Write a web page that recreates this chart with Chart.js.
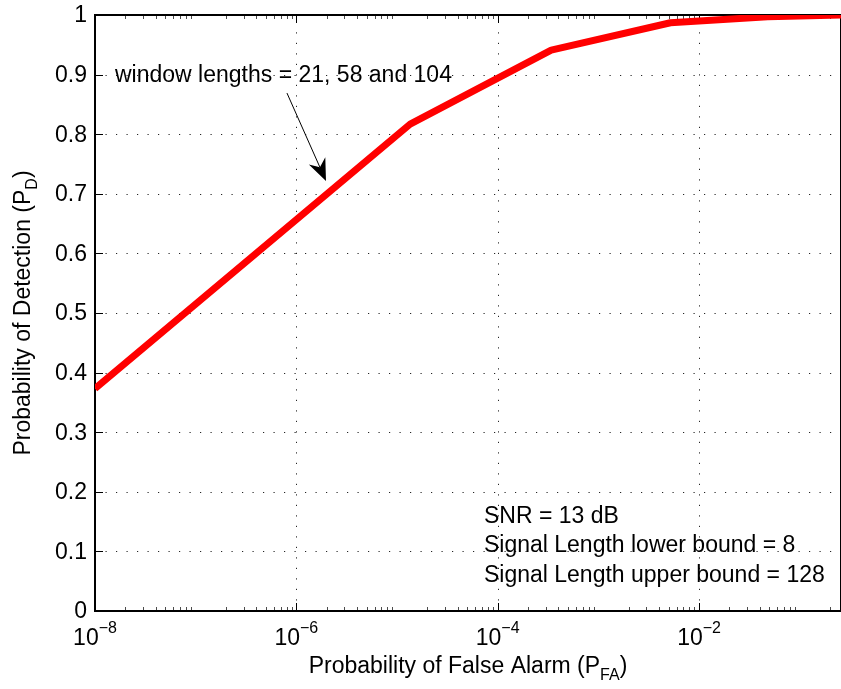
<!DOCTYPE html>
<html>
<head>
<meta charset="utf-8">
<script src="https://cdn.jsdelivr.net/npm/chart.js@4.4.1/dist/chart.umd.min.js"></script>
<style>
  html, body { margin: 0; padding: 0; background: #ffffff; }
  canvas { display: block; }
</style>
</head>
<body>
<canvas id="c" width="841" height="689"></canvas>
<script>
// ---- data ----
const pfaValues = [1e-8, 1.35e-5, 3.4e-4, 5.2e-3, 0.048, 0.257];
const pdValues  = [0.373, 0.817, 0.941, 0.987, 0.997, 1.0];

const xMajorTicks = [1e-8, 1e-6, 1e-4, 1e-2];
const xTickExponents = ['\u22128', '\u22126', '\u22124', '\u22122'];
const yTicks = [0, 0.1, 0.2, 0.3, 0.4, 0.5, 0.6, 0.7, 0.8, 0.9, 1];
const yTickLabels = ['0', '0.1', '0.2', '0.3', '0.4', '0.5', '0.6', '0.7', '0.8', '0.9', '1'];

const xTitleMain = 'Probability of False Alarm (P';
const xTitleSub = 'FA';
const yTitleMain = 'Probability of Detection (P';
const yTitleSub = 'D';

const arrowText = 'window lengths = 21, 58 and 104';
const infoLines = ['SNR = 13 dB', 'Signal Length lower bound = 8', 'Signal Length upper bound = 128'];

// ---- rendering ----
const FONT = '"Liberation Sans", Arial, Helvetica, sans-serif';
const F_MAIN = 23;
const F_SMALL = 16;

function drawWithSub(ctx, main, sub, x, y, align, subShift) {
  ctx.font = F_MAIN + 'px ' + FONT;
  const w1 = ctx.measureText(main).width;
  ctx.font = F_SMALL + 'px ' + FONT;
  const w2 = ctx.measureText(sub).width;
  ctx.font = F_MAIN + 'px ' + FONT;
  const w3 = ctx.measureText(')').width;
  const total = w1 + w2 + w3;
  let x0 = align === 'center' ? x - total / 2 : x;
  ctx.textAlign = 'left';
  ctx.textBaseline = 'alphabetic';
  ctx.font = F_MAIN + 'px ' + FONT;
  ctx.fillText(main, x0, y);
  ctx.font = F_SMALL + 'px ' + FONT;
  ctx.fillText(sub, x0 + w1, y + subShift);
  ctx.font = F_MAIN + 'px ' + FONT;
  ctx.fillText(')', x0 + w1 + w2, y);
}

const matlabAxes = {
  id: 'matlabAxes',
  beforeDatasetsDraw(chart) {
    const { ctx, chartArea: a, scales: { x, y } } = chart;
    ctx.save();
    // dotted grid
    ctx.strokeStyle = 'rgba(0,0,0,0.85)';
    ctx.lineWidth = 1;
    ctx.setLineDash([1.2, 9.3]);
    xMajorTicks.slice(1).forEach(v => {
      const px = Math.round(x.getPixelForValue(v)) + 0.5;
      ctx.beginPath(); ctx.moveTo(px, a.bottom); ctx.lineTo(px, a.top); ctx.stroke();
    });
    yTicks.slice(1, -1).forEach(v => {
      const py = Math.round(y.getPixelForValue(v)) + 0.5;
      ctx.beginPath(); ctx.moveTo(a.left, py); ctx.lineTo(a.right, py); ctx.stroke();
    });
    ctx.setLineDash([]);
    // tick marks (inside)
    ctx.strokeStyle = '#000';
    ctx.lineWidth = 1;
    xMajorTicks.forEach(v => {
      const px = Math.round(x.getPixelForValue(v)) + 0.5;
      ctx.beginPath(); ctx.moveTo(px, a.bottom); ctx.lineTo(px, a.bottom - 8); ctx.stroke();
      ctx.beginPath(); ctx.moveTo(px, a.top); ctx.lineTo(px, a.top + 8); ctx.stroke();
    });
    // minor log ticks
    ctx.strokeStyle = 'rgba(0,0,0,0.7)';
    for (let e = -8; e <= 0; e++) {
      for (let m = 2; m <= 9; m++) {
        const v = m * Math.pow(10, e);
        if (v > x.max) continue;
        const px = Math.round(x.getPixelForValue(v)) + 0.5;
        ctx.beginPath(); ctx.moveTo(px, a.bottom); ctx.lineTo(px, a.bottom - 4); ctx.stroke();
        ctx.beginPath(); ctx.moveTo(px, a.top); ctx.lineTo(px, a.top + 4); ctx.stroke();
      }
    }
    ctx.strokeStyle = '#000';
    yTicks.forEach(v => {
      const py = Math.round(y.getPixelForValue(v)) + 0.5;
      ctx.beginPath(); ctx.moveTo(a.left, py); ctx.lineTo(a.left + 8, py); ctx.stroke();
    });
    // frame
    ctx.lineWidth = 2;
    ctx.strokeStyle = '#000';
    ctx.strokeRect(a.left, a.top, a.right - a.left, a.bottom - a.top);
    ctx.restore();
  },
  afterDatasetsDraw(chart) {
    const { ctx, chartArea: a, scales: { x, y } } = chart;
    ctx.save();
    ctx.fillStyle = '#000';
    // y tick labels
    ctx.font = F_MAIN + 'px ' + FONT;
    ctx.textAlign = 'right';
    ctx.textBaseline = 'middle';
    yTicks.forEach((v, i) => {
      ctx.fillText(yTickLabels[i], a.left - 8, y.getPixelForValue(v) + 1);
    });
    // x tick labels 10^n
    xMajorTicks.forEach((v, i) => {
      const px = x.getPixelForValue(v);
      ctx.font = F_MAIN + 'px ' + FONT;
      const wb = ctx.measureText('10').width;
      ctx.font = F_SMALL + 'px ' + FONT;
      const we = ctx.measureText(xTickExponents[i]).width;
      const x0 = px - (wb + we) / 2;
      ctx.textAlign = 'left';
      ctx.textBaseline = 'alphabetic';
      ctx.font = F_MAIN + 'px ' + FONT;
      ctx.fillText('10', x0, 645);
      ctx.font = F_SMALL + 'px ' + FONT;
      ctx.fillText(xTickExponents[i], x0 + wb, 633);
    });
    // axis titles
    drawWithSub(ctx, xTitleMain, xTitleSub, (a.left + a.right) / 2, 673, 'center', 7);
    ctx.save();
    ctx.translate(30, (a.top + a.bottom) / 2);
    ctx.rotate(-Math.PI / 2);
    drawWithSub(ctx, yTitleMain, yTitleSub, 0, 0, 'center', 7);
    ctx.restore();

    // annotation text
    ctx.font = F_MAIN + 'px ' + FONT;
    ctx.textAlign = 'left';
    ctx.textBaseline = 'alphabetic';
    ctx.fillText(arrowText, x.getPixelForValue(1.58e-8), y.getPixelForValue(0.8876));
    const infoX = x.getPixelForValue(7.3e-5);
    const infoY = [0.1477, 0.0982, 0.0487];
    infoLines.forEach((t, i) => ctx.fillText(t, infoX, y.getPixelForValue(infoY[i])));

    // arrow
    const sx = x.getPixelForValue(8.07e-7), sy = y.getPixelForValue(0.869);
    const tx = x.getPixelForValue(1.97e-6), ty = y.getPixelForValue(0.7215);
    const dx = tx - sx, dy = ty - sy, len = Math.hypot(dx, dy);
    const ux = dx / len, uy = dy / len, nx = -uy, ny = ux;
    const L = 22, W = 9, N = 15;
    ctx.strokeStyle = '#000';
    ctx.lineWidth = 1;
    ctx.beginPath();
    ctx.moveTo(sx, sy);
    ctx.lineTo(tx - N * ux, ty - N * uy);
    ctx.stroke();
    ctx.beginPath();
    ctx.moveTo(tx, ty);
    ctx.lineTo(tx - L * ux + W * nx, ty - L * uy + W * ny);
    ctx.lineTo(tx - N * ux, ty - N * uy);
    ctx.lineTo(tx - L * ux - W * nx, ty - L * uy - W * ny);
    ctx.closePath();
    ctx.fill();
    ctx.restore();
  }
};

new Chart(document.getElementById('c'), {
  type: 'line',
  data: {
    datasets: [{
      data: pfaValues.map((v, i) => ({ x: v, y: pdValues[i] })),
      borderColor: '#ff0000',
      borderWidth: 7,
      pointRadius: 0,
      tension: 0,
      fill: false,
      borderJoinStyle: 'round',
      borderCapStyle: 'butt',
      clip: 0
    }]
  },
  options: {
    responsive: false,
    animation: false,
    devicePixelRatio: 1,
    layout: { padding: { left: 95, top: 15, right: 0, bottom: 78 } },
    plugins: { legend: { display: false }, tooltip: { enabled: false } },
    scales: {
      x: { type: 'logarithmic', min: 1e-8, max: 0.257, display: false },
      y: { type: 'linear', min: 0, max: 1, display: false }
    }
  },
  plugins: [matlabAxes]
});
</script>
</body>
</html>
